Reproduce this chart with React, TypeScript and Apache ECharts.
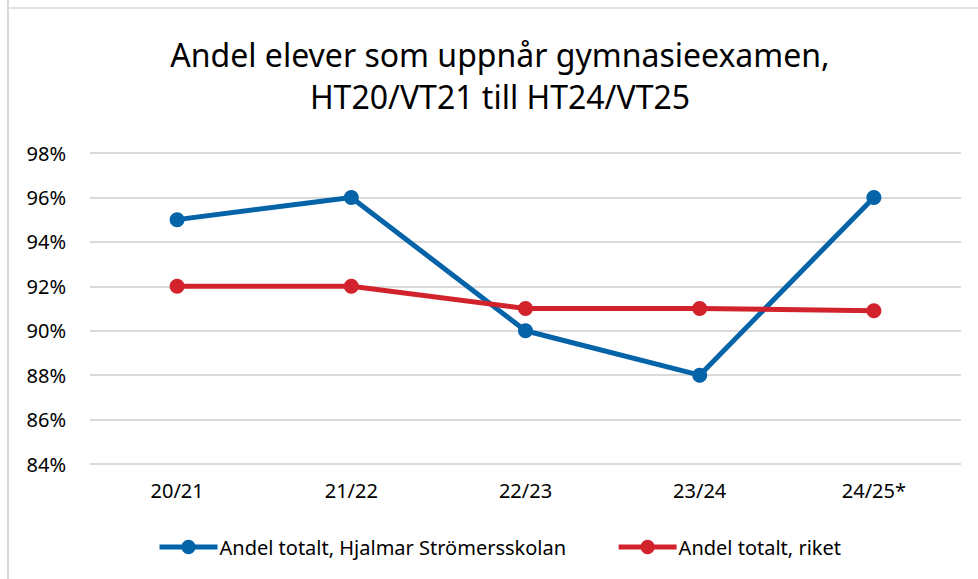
import React, { useEffect, useRef } from "react";
import * as echarts from "echarts";

const categories = ["20/21", "21/22", "22/23", "23/24", "24/25*"];
const schoolValues = [95, 96, 90, 88, 96];
const nationalValues = [92, 92, 91, 91, 90.9];
const seriesNames = ["Andel totalt, Hjalmar Strömersskolan", "Andel totalt, riket"];
const titleLines = ["Andel elever som uppnår gymnasieexamen,", "HT20/VT21 till HT24/VT25"];
const yMin = 84;
const yMax = 98;
const yStep = 2;

const FONT = "'Noto Sans', 'Open Sans', sans-serif";
const BLUE = "#0563A8";
const RED = "#D2232D";

export default function App() {
  const ref = useRef<HTMLDivElement>(null);
  useEffect(() => {
    if (!ref.current) return;
    const chart = echarts.init(ref.current, undefined, { renderer: "svg" });
    chart.setOption({
      animation: false,
      backgroundColor: "#ffffff",
      textStyle: { fontFamily: FONT },
      graphic: [
        { type: "line", shape: { x1: 8, y1: 0, x2: 8, y2: 579 }, style: { stroke: "#d9d9d9", lineWidth: 2 } },
        { type: "line", shape: { x1: 8, y1: 8, x2: 978, y2: 8 }, style: { stroke: "#d9d9d9", lineWidth: 1.5 } },
        {
          type: "text",
          x: 500,
          y: 54,
          style: { text: titleLines[0], fontFamily: FONT, fontSize: 32, fill: "#000", textAlign: "center", textVerticalAlign: "middle" },
        },
        {
          type: "text",
          x: 500,
          y: 96,
          style: { text: titleLines[1], fontFamily: FONT, fontSize: 32, fill: "#000", textAlign: "center", textVerticalAlign: "middle" },
        },
      ],
      grid: { left: 90, right: 17, top: 153, bottom: 115, containLabel: false },
      legend: {
        bottom: 17,
        left: 152,
        itemWidth: 58,
        itemHeight: 18,
        itemGap: 50,
        lineStyle: { width: 5 },
        textStyle: { fontFamily: FONT, fontSize: 20, color: "#000", padding: [0, 0, 0, -3] },
        data: seriesNames,
      },
      xAxis: {
        type: "category",
        data: categories,
        boundaryGap: true,
        axisLine: { show: false },
        axisTick: { show: false },
        axisLabel: { fontFamily: FONT, fontSize: 20, color: "#000", margin: 16 },
      },
      yAxis: {
        type: "value",
        min: yMin,
        max: yMax,
        interval: yStep,
        axisLine: { show: false },
        axisTick: { show: false },
        splitLine: { lineStyle: { color: "#d9d9d9", width: 2 } },
        axisLabel: { fontFamily: FONT, fontSize: 20, color: "#000", margin: 24, formatter: (v: number) => `${v}%` },
      },
      series: [
        {
          name: seriesNames[0],
          type: "line",
          data: schoolValues,
          symbol: "circle",
          symbolSize: 15,
          lineStyle: { color: BLUE, width: 5 },
          itemStyle: { color: BLUE },
        },
        {
          name: seriesNames[1],
          type: "line",
          data: nationalValues,
          symbol: "circle",
          symbolSize: 15,
          lineStyle: { color: RED, width: 5 },
          itemStyle: { color: RED },
        },
      ],
    });
    return () => chart.dispose();
  }, []);
  return <div ref={ref} style={{ position: "fixed", left: 0, top: 0, width: 978, height: 579 }} />;
}
